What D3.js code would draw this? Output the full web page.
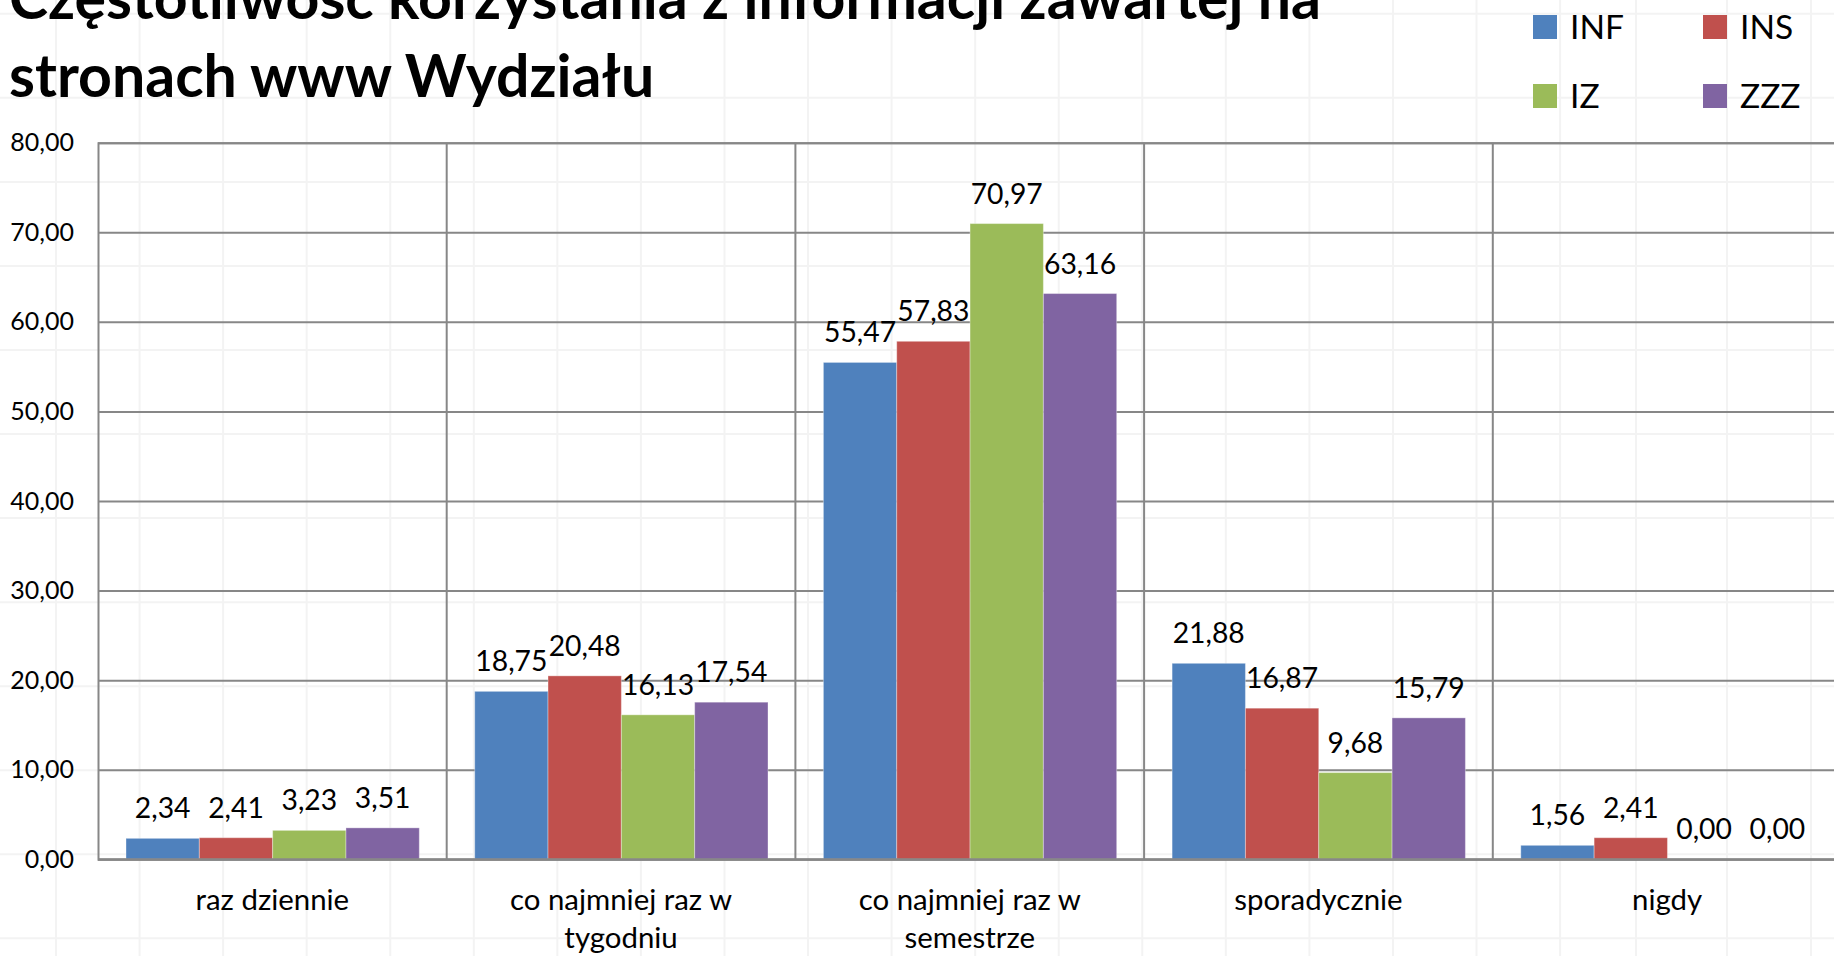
<!DOCTYPE html>
<html>
<head>
<meta charset="utf-8">
<script src="https://cdn.jsdelivr.net/npm/d3@7"></script>
<style>
  html, body { margin: 0; padding: 0; background: #fff; overflow: hidden; }
  svg { display: block; font-family: Lato, "Open Sans", sans-serif; }
</style>
</head>
<body>
<div id="chart"></div>
<script>
var categories = ["raz dziennie", "co najmniej raz w tygodniu", "co najmniej raz w semestrze", "sporadycznie", "nigdy"];
var series = ["INF", "INS", "IZ", "ZZZ"];
var INF = [2.34, 18.75, 55.47, 21.88, 1.56];
var INS = [2.41, 20.48, 57.83, 16.87, 2.41];
var IZ  = [3.23, 16.13, 70.97, 9.68, 0.00];
var ZZZ = [3.51, 17.54, 63.16, 15.79, 0.00];
var yTicks = [0, 10, 20, 30, 40, 50, 60, 70, 80];
var titleLines = ["Częstotliwość korzystania z informacji zawartej na", "stronach www Wydziału"];

var colors = {INF: "#4F81BD", INS: "#C0504D", IZ: "#9BBB59", ZZZ: "#8064A2"};
var values = {INF: INF, INS: INS, IZ: IZ, ZZZ: ZZZ};

var W = 1834, H = 956;
var plotLeft = 98, plotTop = 142.7, plotBottom = 859.3;
var catWidth = 348.7; // the last column runs off the right edge
var gridColor = "#878787";

var pl = d3.formatLocale({decimal: ",", thousands: " ", grouping: [3], currency: ["", " zł"]});
var fmt = pl.format(".2f");

var svg = d3.select("#chart").append("svg")
    .attr("width", W)
    .attr("height", H);

// faint spreadsheet cells behind the chart
var colEdges = d3.range(19).map(function(i){ return 56 + i * 83.56; }).concat([1636, 1727, 1811]);
var rowEdges = d3.range(12).map(function(i){ return 13.8 + i * 84.05; });
var sheet = svg.append("g");
sheet.selectAll(".col").data(colEdges).enter().append("line")
    .attr("x1", function(d){ return d; }).attr("x2", function(d){ return d; })
    .attr("y1", 0).attr("y2", H)
    .attr("stroke", "#f3f3f3").attr("stroke-width", 2);
sheet.selectAll(".row").data(rowEdges).enter().append("line")
    .attr("y1", function(d){ return d; }).attr("y2", function(d){ return d; })
    .attr("x1", 0).attr("x2", W)
    .attr("stroke", "#f3f3f3").attr("stroke-width", 2);

var x = d3.scaleBand()
    .domain(categories)
    .range([plotLeft, plotLeft + catWidth * categories.length]);

var xs = d3.scaleBand()
    .domain(series)
    .range([28, catWidth - 27.4]);

var y = d3.scaleLinear()
    .domain([0, 80])
    .range([plotBottom, plotTop]);

// horizontal gridlines + y labels
var yAxis = svg.append("g")
    .attr("transform", "translate(" + plotLeft + ",0)")
    .call(d3.axisLeft(y)
        .tickValues(yTicks)
        .tickSize(-(catWidth * categories.length))
        .tickPadding(24)
        .tickFormat(fmt));
yAxis.select(".domain").attr("stroke", gridColor).attr("stroke-width", 2);
yAxis.selectAll(".tick line").attr("stroke", gridColor).attr("stroke-width", 2);
yAxis.selectAll(".tick text")
    .attr("fill", "#000")
    .style("font-size", "25px")
    .style("font-family", "Lato");

// vertical dividers between categories
svg.append("g").selectAll("line")
    .data(categories.slice(1).concat(["end"]))
    .enter().append("line")
    .attr("x1", function(d, i){ return plotLeft + catWidth * (i + 1); })
    .attr("x2", function(d, i){ return plotLeft + catWidth * (i + 1); })
    .attr("y1", plotTop).attr("y2", plotBottom)
    .attr("stroke", gridColor).attr("stroke-width", 2);

// bars
var groups = svg.append("g").selectAll("g")
    .data(categories)
    .enter().append("g")
    .attr("transform", function(d){ return "translate(" + x(d) + ",0)"; });

groups.selectAll("rect")
    .data(function(d, i){ return series.map(function(s){ return {s: s, v: values[s][i]}; }); })
    .enter().append("rect")
    .attr("x", function(d){ return xs(d.s); })
    .attr("width", xs.bandwidth())
    .attr("y", function(d){ return y(d.v); })
    .attr("height", function(d){ return plotBottom - y(d.v); })
    .attr("fill", function(d){ return colors[d.s]; })
    .attr("stroke", "rgba(255,255,255,0.35)")
    .attr("stroke-width", 1);

groups.selectAll("text")
    .data(function(d, i){ return series.map(function(s){ return {s: s, v: values[s][i]}; }); })
    .enter().append("text")
    .attr("x", function(d){ return xs(d.s) + xs.bandwidth() / 2; })
    .attr("y", function(d){ return y(d.v) - 20; })
    .attr("text-anchor", "middle")
    .style("font-size", "28.3px")
    .text(function(d){ return fmt(d.v); });

// baseline over the bars
svg.append("line")
    .attr("x1", plotLeft).attr("x2", W)
    .attr("y1", y(0)).attr("y2", y(0))
    .attr("stroke", gridColor).attr("stroke-width", 2);

// category labels, wrapped
var catLabels = svg.append("g").selectAll("text")
    .data(categories)
    .enter().append("text")
    .attr("x", function(d){ return x(d) + catWidth / 2; })
    .attr("y", 910)
    .attr("text-anchor", "middle")
    .style("font-size", "29.4px");

catLabels.each(function(d){
    var t = d3.select(this);
    var words = d.split(" "), line = [], lines = [];
    var probe = t.append("tspan");
    words.forEach(function(w){
        line.push(w);
        probe.text(line.join(" "));
        if (probe.node().getComputedTextLength() > 270 && line.length > 1) {
            line.pop();
            lines.push(line.join(" "));
            line = [w];
        }
    });
    lines.push(line.join(" "));
    probe.remove();
    lines.forEach(function(l, k){
        t.append("tspan")
            .attr("x", x(d) + catWidth / 2)
            .attr("dy", k === 0 ? 0 : 38)
            .text(l);
    });
});

// title
svg.append("g").selectAll("text")
    .data(titleLines)
    .enter().append("text")
    .attr("x", 9)
    .attr("y", function(d, i){ return 19 + i * 77.7; })
    .style("font-size", "59px")
    .style("font-weight", "bold")
    .text(function(d){ return d; });

// legend, two rows of two
var legend = svg.append("g").selectAll("g")
    .data(series)
    .enter().append("g")
    .attr("transform", function(d, i){
        return "translate(" + (1533 + (i % 2) * 170) + "," + (15 + Math.floor(i / 2) * 69) + ")";
    });
legend.append("rect")
    .attr("width", 24).attr("height", 24)
    .attr("fill", function(d){ return colors[d]; });
legend.append("text")
    .attr("x", 37)
    .attr("y", 24)
    .style("font-size", "33.5px")
    .text(function(d){ return d; });
</script>
</body>
</html>
